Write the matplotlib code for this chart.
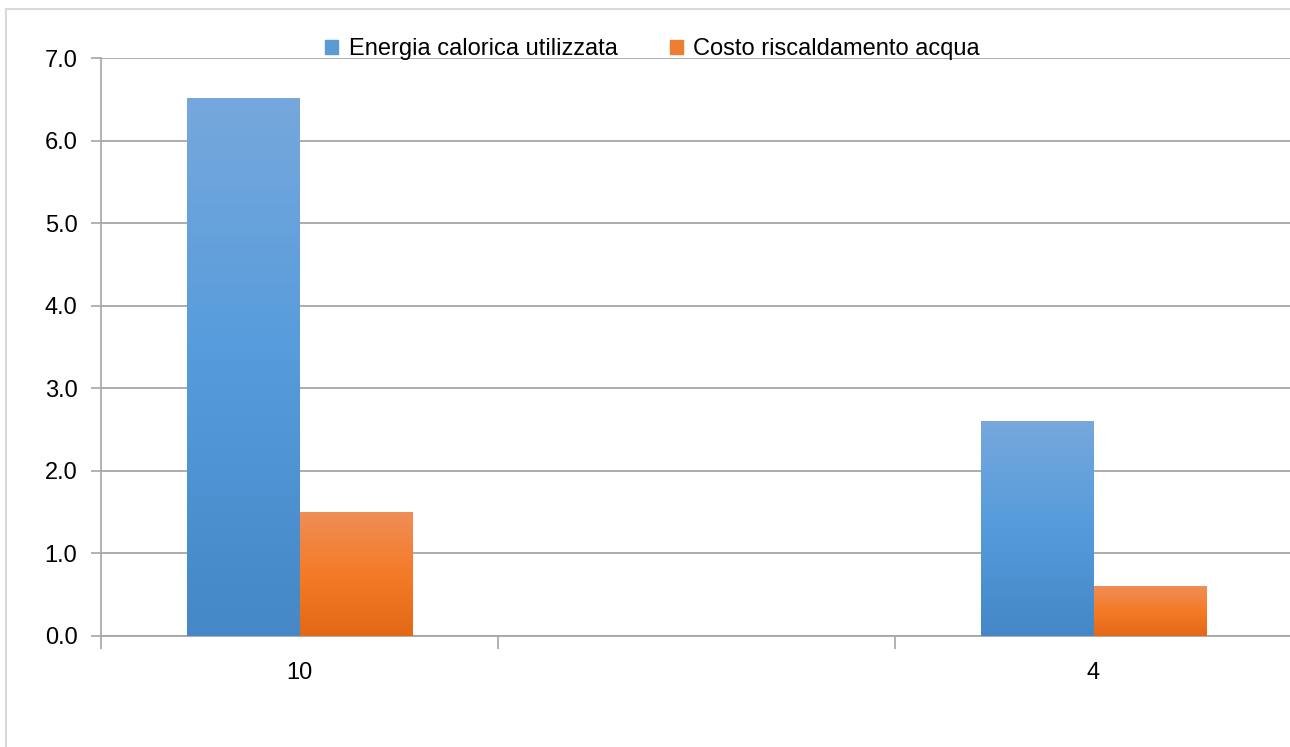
import matplotlib.pyplot as plt
import matplotlib.patches as mpatches
from matplotlib.colors import LinearSegmentedColormap
import numpy as np

categories = ["10", "", "4"]
energia = [6.52, np.nan, 2.6]
costo = [1.5, np.nan, 0.6]
series_names = ["Energia calorica utilizzata", "Costo riscaldamento acqua"]

blue_stops = ["#4587C7", "#559BDB", "#76A8DD"]
orange_stops = ["#E36817", "#F47B27", "#F08D57"]

plt.rcParams['font.family'] = ['Liberation Sans', 'DejaVu Sans']

fig = plt.figure(figsize=(12.9, 7.47), dpi=100)
ax = fig.add_axes([101 / 1290, 111 / 747, 1191 / 1290, 578 / 747])

# outer chart border (cropped at right/bottom)
fig.patches.append(mpatches.Rectangle((6 / 1290, -0.1), 1.2, (747 - 9) / 747 + 0.1,
                                      transform=fig.transFigure, fill=False,
                                      edgecolor="#D9D9D9", linewidth=1.5, zorder=0))

x = np.arange(len(categories))
w = 113 / 397


def gradient_bars(bars, stops):
    cmap = LinearSegmentedColormap.from_list("g", stops)
    grad = np.linspace(0, 1, 256).reshape(-1, 1)
    for b in bars:
        h = b.get_height()
        if not np.isfinite(h):
            continue
        x0 = b.get_x()
        im = ax.imshow(grad, cmap=cmap, aspect="auto", origin="lower",
                       extent=(x0, x0 + b.get_width(), 0, h), zorder=3)
        im.set_clip_path(b)
        b.set_facecolor("none")


b1 = ax.bar(x - w / 2, energia, w, color=blue_stops[1], zorder=3, linewidth=0)
b2 = ax.bar(x + w / 2, costo, w, color=orange_stops[1], zorder=3, linewidth=0)
gradient_bars(b1, blue_stops)
gradient_bars(b2, orange_stops)

ax.set_xlim(-0.5, 2.5)
ax.set_ylim(0, 7)
ax.set_yticks(np.arange(0, 7.1, 1))
ax.set_yticklabels([f"{v:.1f}" for v in np.arange(0, 7.1, 1)])
ax.set_xticks(x)
ax.set_xticklabels(categories)
ax.set_xticks(np.arange(-0.5, 2.6, 1), minor=True)
ax.tick_params(axis="x", which="major", length=0, pad=19, labelsize=17)
ax.tick_params(axis="x", which="minor", length=9, color="#A6A6A6", width=1.2)
ax.tick_params(axis="y", length=7, color="#A6A6A6", width=1.2, labelsize=17, pad=10)

ax.grid(axis="y", color="#A6A6A6", linewidth=1.3, zorder=0)
ax.set_axisbelow(True)
for s in ["top", "right"]:
    ax.spines[s].set_visible(False)
ax.spines["left"].set_color("#A6A6A6")
ax.spines["bottom"].set_color("#A6A6A6")
ax.spines["left"].set_linewidth(1.2)
ax.spines["bottom"].set_linewidth(1.3)

handles = [mpatches.Patch(color="#5B9BD5", label=series_names[0]),
           mpatches.Patch(color="#ED7D31", label=series_names[1])]
fig.legend(handles=handles, loc="center", bbox_to_anchor=(0.506, 0.934), ncol=2,
           frameon=False, fontsize=17, handlelength=0.55, handleheight=0.55,
           handletextpad=0.45, columnspacing=2.2)

fig.savefig("out.png", dpi=100)
